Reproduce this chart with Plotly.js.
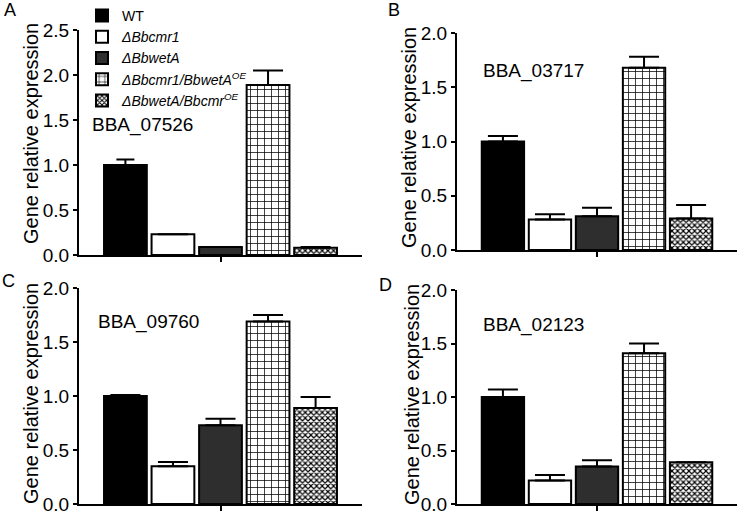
<!DOCTYPE html>
<html>
<head>
<meta charset="utf-8">
<script src="https://cdn.plot.ly/plotly-3.0.1.min.js"></script>
<style>html,body{margin:0;padding:0;background:#fff;}#chart{width:750px;height:514px;}</style>
</head>
<body>
<div id="chart"></div>
<script>
// ---- data ----
var seriesNames = ["WT", "<i>ΔBbcmr1</i>", "<i>ΔBbwetA</i>", "<i>ΔBbcmr1/BbwetA</i><sup><i>OE</i></sup>", "<i>ΔBbwetA/Bbcmr</i><sup><i>OE</i></sup>"];
var panelLetters = ["A", "B", "C", "D"];
var geneLabels = ["BBA_07526", "BBA_03717", "BBA_09760", "BBA_02123"];
var yTitle = "Gene relative expression";
var category = [""];
var valuesA = [1.00, 0.23, 0.09, 1.89, 0.08];
var errorsA = [0.06, 0.00, 0.00, 0.16, 0.01];
var valuesB = [1.00, 0.28, 0.31, 1.68, 0.29];
var errorsB = [0.05, 0.05, 0.08, 0.10, 0.125];
var valuesC = [1.00, 0.35, 0.73, 1.69, 0.89];
var errorsC = [0.01, 0.04, 0.06, 0.06, 0.10];
var valuesD = [1.00, 0.22, 0.35, 1.41, 0.39];
var errorsD = [0.07, 0.05, 0.06, 0.09, 0.00];
var yMax = [2.5, 2.0, 2.0, 2.0];

// ---- styling ----
var FONT = "Liberation Sans, Arial, sans-serif";
var fills = ["#000000", "#ffffff", "#2e2e2e", "#ffffff", "#ffffff"];
var patterns = [
  {shape: ""}, {shape: ""}, {shape: ""},
  {shape: "+", size: 7, solidity: 0.2, fgcolor: "#000", bgcolor: "#fff", fillmode: "replace"},
  {shape: "x", size: 4, solidity: 0.5, fgcolor: "#000", bgcolor: "#fff", fillmode: "replace"}
];
var allValues = [valuesA, valuesB, valuesC, valuesD];
var allErrors = [errorsA, errorsB, errorsC, errorsD];

// panel domains (paper fractions)
var W = 750, H = 514;
var xDom = [[79/W, 362/W], [457/W, 737/W], [79/W, 362/W], [457/W, 737/W]];
var yDom = [[1-255/H, 1-30/H], [1-250/H, 1-33/H], [1-504/H, 1-288/H], [1-504/H, 1-290/H]];
var geneXY = [[142/W, 1-125/H], [533/W, 1-71/H], [148/W, 1-322/H], [533/W, 1-325/H]];
var letterXY = [[10/W, 1-10/H], [394/W, 1-10/H], [8/W, 1-281/H], [385/W, 1-285/H]];
var titleXY = [[31/W, 1-134/H], [409/W, 1-138/H], [31/W, 1-394/H], [412/W, 1-395/H]];

var traces = [];
for (var p = 0; p < 4; p++) {
  for (var s = 0; s < 5; s++) {
    traces.push({
      type: "bar",
      x: category,
      y: [allValues[p][s]],
      name: seriesNames[s],
      legendgroup: "g" + s,
      showlegend: p === 0,
      xaxis: p === 0 ? "x" : "x" + (p + 1),
      yaxis: p === 0 ? "y" : "y" + (p + 1),
      marker: {color: fills[s], line: {color: "#000", width: 2}, pattern: patterns[s]},
      error_y: {type: "data", symmetric: false, array: [allErrors[p][s]], arrayminus: [0],
                color: "#000", thickness: 2, width: (p === 0 && s === 0) ? 9 : 15},
      hoverinfo: "skip"
    });
  }
}

var layout = {
  width: W, height: H,
  margin: {l: 0, r: 0, t: 0, b: 0},
  paper_bgcolor: "#fff", plot_bgcolor: "rgba(0,0,0,0)",
  font: {family: FONT, color: "#000", size: 18},
  barmode: "group", bargap: 0.16, bargroupgap: 0.1,
  showlegend: true,
  legend: {x: 82/W, y: 1, xanchor: "left", yanchor: "top", font: {family: FONT, size: 14, color: "#000"},
           traceorder: "grouped", tracegroupgap: 0, itemwidth: 30, bgcolor: "rgba(0,0,0,0)"},
  annotations: [],
  shapes: []
};
for (var p = 0; p < 4; p++) {
  var xk = p === 0 ? "xaxis" : "xaxis" + (p + 1);
  var yk = p === 0 ? "yaxis" : "yaxis" + (p + 1);
  layout[xk] = {
    domain: xDom[p], anchor: p === 0 ? "y" : "y" + (p + 1),
    type: "category", range: [-0.5, 0.5],
    showline: true, linecolor: "#000", linewidth: 2,
    ticks: "outside", ticklen: 5, tickwidth: 2, tickcolor: "#000",
    showticklabels: false, showgrid: false, zeroline: false, fixedrange: true
  };
  layout[yk] = {
    domain: yDom[p], anchor: p === 0 ? "x" : "x" + (p + 1),
    range: [0, yMax[p]], dtick: 0.5, tickformat: ".1f",
    showline: true, linecolor: "#000", linewidth: 2,
    ticks: "outside", ticklen: 4, tickwidth: 2, tickcolor: "#000",
    tickfont: {family: FONT, size: 19, color: "#000"}, ticklabeloverflow: "allow",
    showgrid: false, zeroline: false, fixedrange: true
  };
  layout.annotations.push({
    xref: "paper", yref: "paper", x: titleXY[p][0], y: titleXY[p][1],
    text: yTitle, textangle: -90, showarrow: false, xanchor: "center", yanchor: "middle",
    font: {family: FONT, size: 20, color: "#000"}
  });
  layout.annotations.push({
    xref: "paper", yref: "paper", x: geneXY[p][0], y: geneXY[p][1],
    text: geneLabels[p], showarrow: false, xanchor: "center", yanchor: "middle",
    font: {family: FONT, size: 19, color: "#000"}
  });
  layout.annotations.push({
    xref: "paper", yref: "paper", x: letterXY[p][0], y: letterXY[p][1],
    text: panelLetters[p], showarrow: false, xanchor: "center", yanchor: "middle",
    font: {family: FONT, size: 18, color: "#000"}
  });
}

Plotly.newPlot("chart", traces, layout, {staticPlot: true, displayModeBar: false});
</script>
</body>
</html>
